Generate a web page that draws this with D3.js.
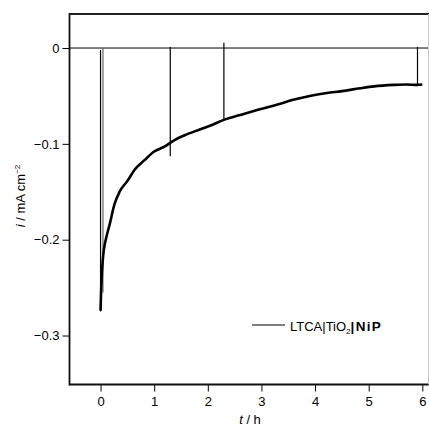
<!DOCTYPE html>
<html>
<head>
<meta charset="utf-8">
<script src="https://cdn.jsdelivr.net/npm/d3@7"></script>
<style>
  html, body { margin: 0; padding: 0; background: #fff; }
  svg { display: block; font-family: "Liberation Sans", Arial, sans-serif; }
</style>
</head>
<body>
<svg id="chart" width="429" height="428"></svg>
<script>
// ---- data ----
const timeH = [0, 0.01, 0.02, 0.035, 0.05, 0.075, 0.11, 0.17, 0.26, 0.355, 0.51, 0.635, 0.82, 1.0, 1.19, 1.38, 1.57, 1.85, 2.09, 2.3, 2.6, 2.97, 3.3, 3.59, 3.9, 4.22, 4.5, 4.84, 5.1, 5.46, 5.7, 5.9, 6.0];
const current = [-0.274, -0.255, -0.240, -0.226, -0.216, -0.206, -0.197, -0.184, -0.163, -0.150, -0.138, -0.127, -0.117, -0.108, -0.103, -0.096, -0.091, -0.085, -0.080, -0.075, -0.070, -0.064, -0.059, -0.054, -0.050, -0.047, -0.045, -0.042, -0.040, -0.0385, -0.038, -0.0385, -0.038];
// light on/off transients (vertical spikes)
const spikeT = [0, 0.045, 1.30, 2.30, 5.91];
const spikeTop = [-0.002, 0.0, 0.001, 0.0055, 0.001];
const spikeBottom = [-0.275, -0.255, -0.113, -0.075, -0.0385];
const xTicks = [0, 1, 2, 3, 4, 5, 6];
const yTicks = [0, -0.1, -0.2, -0.3];
const legendLabel = "LTCA|TiO";

// ---- layout ----
const svg = d3.select("#chart");
const L = 69.5, R = 428, T = 14, B = 384.5;
const x = d3.scaleLinear().domain([-0.579, 6.106]).range([L, R]);
const y = d3.scaleLinear().domain([-0.3511, 0.0355]).range([B, T]);

const fmt = v => v === 0 ? "0" : d3.format(".1f")(v).replace("-", "\u2212");

// zero line
svg.append("line")
  .attr("x1", L).attr("x2", R + 1)
  .attr("y1", y(0)).attr("y2", y(0))
  .attr("stroke", "#000").attr("stroke-width", 1);

// axes
const xAxis = d3.axisBottom(x).tickValues(xTicks).tickSize(7).tickPadding(5).tickFormat(d3.format("d"));
const gx = svg.append("g").attr("transform", `translate(0,${B})`).call(xAxis);
gx.select(".domain").remove();
gx.selectAll(".tick line").attr("stroke", "#000").attr("stroke-width", 1);
gx.selectAll("text").attr("font-size", 13).attr("fill", "#000")
  .attr("font-family", "'Liberation Sans', Arial, sans-serif");

const yAxis = d3.axisLeft(y).tickValues(yTicks).tickSize(7).tickPadding(3).tickFormat(fmt);
const gy = svg.append("g").attr("transform", `translate(${L},0)`).call(yAxis);
gy.select(".domain").remove();
gy.selectAll(".tick line").attr("stroke", "#000").attr("stroke-width", 1);
gy.selectAll("text").attr("font-size", 13).attr("fill", "#000")
  .attr("font-family", "'Liberation Sans', Arial, sans-serif");

// frame
svg.append("line").attr("x1", L).attr("x2", L).attr("y1", T - 1).attr("y2", B + 1)
  .attr("stroke", "#111").attr("stroke-width", 1.8);
svg.append("line").attr("x1", L).attr("x2", R + 1).attr("y1", T).attr("y2", T)
  .attr("stroke", "#222").attr("stroke-width", 1.8);
svg.append("line").attr("x1", L).attr("x2", R + 1).attr("y1", B).attr("y2", B)
  .attr("stroke", "#111").attr("stroke-width", 1.8);
svg.append("line").attr("x1", R + 0.5).attr("x2", R + 0.5).attr("y1", T).attr("y2", B)
  .attr("stroke", "#c8c8c8").attr("stroke-width", 1);

// spikes
const spikes = spikeT.map((t, i) => ({ t, top: spikeTop[i], bottom: spikeBottom[i] }));
svg.append("g").selectAll("line").data(spikes).join("line")
  .attr("x1", d => x(d.t)).attr("x2", d => x(d.t))
  .attr("y1", d => y(d.top)).attr("y2", d => y(d.bottom))
  .attr("stroke", (d, i) => i === 1 ? "#666" : "#000")
  .attr("stroke-width", 1.2);

// main curve
const pts = timeH.map((t, i) => [t, current[i]]);
const line = d3.line().x(d => x(d[0])).y(d => y(d[1])).curve(d3.curveMonotoneX);
svg.append("path").datum(pts)
  .attr("d", line)
  .attr("fill", "none").attr("stroke", "#000").attr("stroke-width", 2.6)
  .attr("stroke-linejoin", "round");

// axis titles
const xt = svg.append("text").attr("x", 250).attr("y", 424).attr("text-anchor", "middle")
  .attr("font-size", 13).attr("fill", "#000");
xt.append("tspan").attr("font-style", "italic").text("t");
xt.append("tspan").text(" / h");

const yt = svg.append("text").attr("transform", "translate(25,196) rotate(-90)")
  .attr("text-anchor", "middle").attr("font-size", 13).attr("fill", "#000");
yt.append("tspan").attr("font-style", "italic").text("i");
yt.append("tspan").text(" / mA cm");
yt.append("tspan").attr("font-size", 8).attr("dy", -5).text("\u22122");

// legend
svg.append("line").attr("x1", 252).attr("x2", 285).attr("y1", 325).attr("y2", 325)
  .attr("stroke", "#000").attr("stroke-width", 1);
const lg = svg.append("text").attr("x", 290).attr("y", 330.5).attr("font-size", 13).attr("fill", "#000");
lg.append("tspan").text(legendLabel);
lg.append("tspan").attr("font-size", 8).attr("dy", 3).text("2");
lg.append("tspan").attr("dy", -3).attr("font-weight", "bold").attr("font-size", 13.5)
  .attr("letter-spacing", 1.3).text("|NiP");
</script>
</body>
</html>
